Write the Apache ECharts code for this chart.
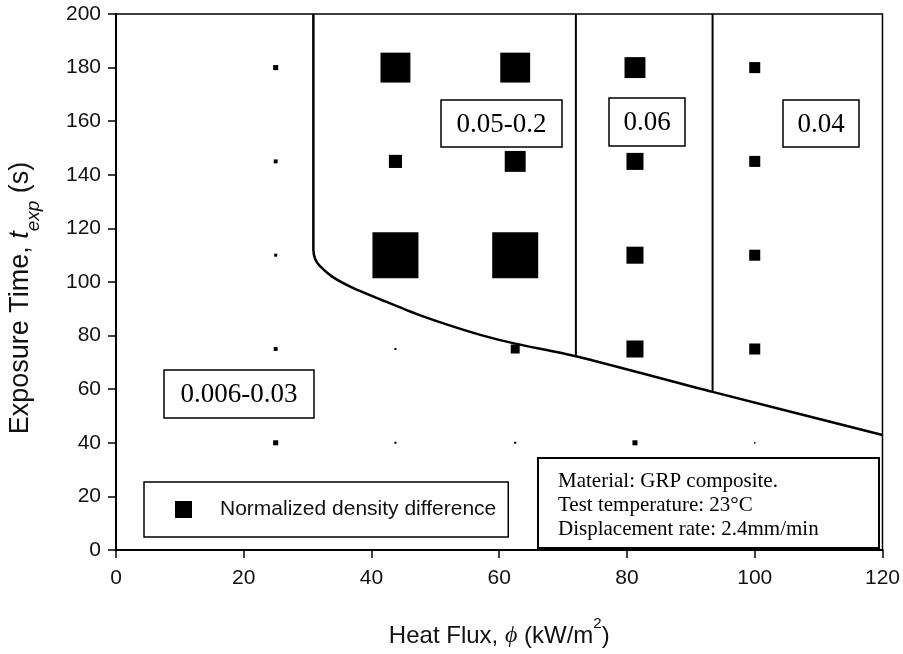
<!DOCTYPE html>
<html>
<head>
<meta charset="utf-8">
<script src="https://cdn.jsdelivr.net/npm/echarts@6/dist/echarts.min.js"></script>
<style>
html,body{margin:0;padding:0;background:#fff;}
#chart{width:903px;height:654px;}
</style>
</head>
<body>
<div id="chart"></div>
<script>
// ---- data ----
const heatFlux = [25, 43.75, 62.5, 81.25, 100];          // x levels (kW/m2)
const exposureTimes = [180, 145, 110, 75, 40];            // y levels (s)
// normalized density difference, rows follow exposureTimes, columns follow heatFlux
const densityRow180 = [0.022, 0.130, 0.130, 0.091, 0.048];
const densityRow145 = [0.017, 0.057, 0.091, 0.074, 0.048];
const densityRow110 = [0.013, 0.200, 0.200, 0.074, 0.048];
const densityRow75  = [0.017, 0.009, 0.039, 0.074, 0.048];
const densityRow40  = [0.022, 0.009, 0.009, 0.022, 0.0065];
const densityRows = [densityRow180, densityRow145, densityRow110, densityRow75, densityRow40];

// boundary curve (heat flux, exposure time)
const boundaryX = [30.9, 30.9, 31.2, 31.9, 33.9, 37.0, 41.7, 46.9, 52.1, 57.3, 62.5, 72.0, 93.4, 120];
const boundaryY = [200, 112, 108.5, 106.0, 101.9, 97.9, 93.2, 88.2, 83.9, 80.1, 77.0, 72.3, 59.0, 42.9];
const divider1 = [[72.0, 72.3], [72.0, 200]];
const divider2 = [[93.4, 59.0], [93.4, 200]];

const xTicks = [0, 20, 40, 60, 80, 100, 120];
const yTicks = [0, 20, 40, 60, 80, 100, 120, 140, 160, 180, 200];

const regionLabels = ['0.006-0.03', '0.05-0.2', '0.06', '0.04'];
const noteLines = ['Material: GRP composite.', 'Test temperature: 23°C', 'Displacement rate: 2.4mm/min'];
const seriesName = 'Normalized density difference';

// ---- build ----
const scatterData = [];
exposureTimes.forEach((t, r) => {
  heatFlux.forEach((q, c) => scatterData.push([q, t, densityRows[r][c]]));
});
const boundary = boundaryX.map((x, i) => [x, boundaryY[i]]);

const SANS = 'Liberation Sans, Arial, Helvetica, sans-serif';
const SERIF = 'Liberation Serif, Times New Roman, serif';

function boxLabel(text, cx, cy, w, h) {
  return {
    type: 'group',
    children: [
      {type: 'rect', shape: {x: cx - w / 2, y: cy - h / 2, width: w, height: h},
       style: {fill: '#fff', stroke: '#000', lineWidth: 1.5}, z: 100},
      {type: 'text', x: cx, y: cy + 1, z: 101,
       style: {text: text, font: '27px ' + SERIF, fill: '#000', align: 'center', verticalAlign: 'middle'}}
    ]
  };
}

const chart = echarts.init(document.getElementById('chart'));
chart.setOption({
  animation: false,
  backgroundColor: '#fff',
  grid: {left: 116, top: 14, width: 768, height: 536, show: true, borderColor: '#000', borderWidth: 1.5, backgroundColor: 'transparent'},
  xAxis: {
    type: 'value', min: xTicks[0], max: xTicks[xTicks.length - 1], interval: 20,
    axisLine: {show: true, lineStyle: {color: '#000', width: 2}},
    axisTick: {show: true, inside: false, length: 8, lineStyle: {color: '#000', width: 1.5}},
    axisLabel: {show: true, margin: 18, color: '#111', fontSize: 21, fontFamily: SANS},
    splitLine: {show: false},
    name: '{a|Heat Flux, }{i|ϕ}{a| (kW/m}{sup|2}{a|)}',
    nameLocation: 'middle', nameGap: 66,
    nameTextStyle: {
      rich: {
        a: {fontSize: 24, fontFamily: SANS, color: '#111', lineHeight: 32, verticalAlign: 'bottom'},
        i: {fontSize: 24, fontFamily: SERIF, fontStyle: 'italic', color: '#111', lineHeight: 32, verticalAlign: 'bottom'},
        sup: {fontSize: 15, fontFamily: SANS, color: '#111', lineHeight: 32, verticalAlign: 'top'}
      }
    }
  },
  yAxis: {
    type: 'value', min: yTicks[0], max: yTicks[yTicks.length - 1], interval: 20,
    axisLine: {show: true, lineStyle: {color: '#000', width: 2}},
    axisTick: {show: true, inside: false, length: 8, lineStyle: {color: '#000', width: 1.5}},
    axisLabel: {show: true, margin: 15, color: '#111', fontSize: 21, fontFamily: SANS},
    splitLine: {show: false}
  },
  legend: {
    show: true, left: 144, top: 482, orient: 'horizontal',
    data: [{name: seriesName, icon: 'rect'}],
    itemWidth: 17, itemHeight: 17,
    padding: [17, 12, 17, 31],
    borderColor: '#000', borderWidth: 1.5, backgroundColor: '#fff',
    textStyle: {fontSize: 21, fontFamily: SANS, color: '#111', padding: [0, 0, 0, 23]},
    selectedMode: false
  },
  series: [
    {
      name: seriesName, type: 'scatter', symbol: 'rect',
      symbolSize: d => d[2] * 230,
      itemStyle: {color: '#000', opacity: 1},
      data: scatterData, z: 5
    },
    {type: 'line', data: boundary, showSymbol: false, symbol: 'none', smooth: 0.25,
     lineStyle: {color: '#000', width: 2.5}, silent: true, z: 3},
    {type: 'line', data: divider1, showSymbol: false, symbol: 'none',
     lineStyle: {color: '#000', width: 2}, silent: true, z: 3},
    {type: 'line', data: divider2, showSymbol: false, symbol: 'none',
     lineStyle: {color: '#000', width: 2}, silent: true, z: 3}
  ],
  graphic: [
    {type: 'text', x: 25, y: 298, rotation: Math.PI / 2, z: 50,
     style: {
       text: '{a|Exposure Time, }{i|t}{s|exp}{a| (s)}',
       align: 'center', verticalAlign: 'middle',
       rich: {
         a: {fontSize: 27, fontFamily: SANS, fill: '#111', lineHeight: 36, verticalAlign: 'top'},
         i: {fontSize: 27, fontFamily: SANS, fontStyle: 'italic', fill: '#111', lineHeight: 36, verticalAlign: 'top'},
         s: {fontSize: 19, fontFamily: SANS, fontStyle: 'italic', fill: '#111', lineHeight: 36, verticalAlign: 'bottom'}
       }
     }},
    boxLabel(regionLabels[0], 239, 394, 150, 48),
    boxLabel(regionLabels[1], 501.5, 123.5, 121, 47),
    boxLabel(regionLabels[2], 647, 122, 76, 48),
    boxLabel(regionLabels[3], 821, 123.5, 76, 47),
    {type: 'group', children: [
      {type: 'rect', shape: {x: 538, y: 458, width: 341, height: 90}, z: 100,
       style: {fill: '#fff', stroke: '#000', lineWidth: 2}},
      {type: 'text', x: 558, y: 481, z: 101, style: {text: noteLines[0], font: '21px ' + SERIF, fill: '#000', verticalAlign: 'middle'}},
      {type: 'text', x: 558, y: 505, z: 101, style: {text: noteLines[1], font: '21px ' + SERIF, fill: '#000', verticalAlign: 'middle'}},
      {type: 'text', x: 558, y: 529, z: 101, style: {text: noteLines[2], font: '21px ' + SERIF, fill: '#000', verticalAlign: 'middle'}}
    ]}
  ]
});
</script>
</body>
</html>
